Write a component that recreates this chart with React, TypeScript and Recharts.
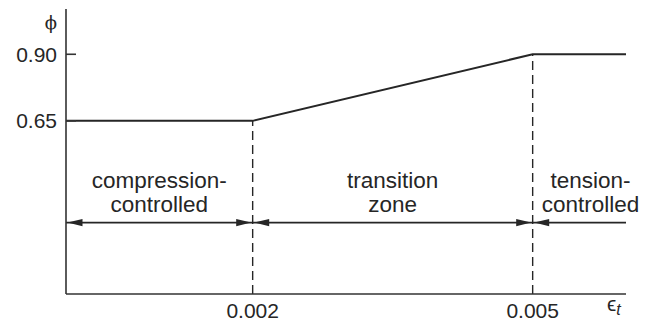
import { LineChart, Line, XAxis, YAxis, ReferenceLine, ReferenceDot } from "recharts";

// strength reduction factor vs. net tensile strain
const strain = [0, 0.002, 0.005, 0.006];
const phi = [0.65, 0.65, 0.9, 0.9];
const xTicks = [0.002, 0.005];
const yTicks = [0.65, 0.9];

// zones between the strain limits
const zoneBounds = [0, 0.002, 0.005, 0.006];
const zoneLabels = [
  ["compression-", "controlled"],
  ["transition", "zone"],
  ["tension-", "controlled"],
];
const zoneLabelX = [0.001, 0.0035, 0.00562];
const zoneHeads: [boolean, boolean][] = [
  [true, true],
  [true, true],
  [true, false],
];
const arrowLevel = 0.268;
const labelLevel = 0.353;

const INK = "#262626";
const FONT = "'Liberation Sans', Arial, Helvetica, sans-serif";

const data = strain.map((s, i) => ({ strain: s, phi: phi[i] }));

function arrowSpan(props: any, heads: [boolean, boolean]) {
  const { x1, y1, x2 } = props;
  const len = 15;
  const half = 3.6;
  const inset = 1.5;
  const left = x1 + inset;
  const right = x2 - inset;
  return (
    <g>
      <line x1={x1} y1={y1} x2={x2} y2={y1} stroke={INK} strokeWidth={1.7} />
      {heads[0] && (
        <polygon
          points={`${left},${y1} ${left + len},${y1 - half} ${left + len},${y1 + half}`}
          fill={INK}
        />
      )}
      {heads[1] && (
        <polygon
          points={`${right},${y1} ${right - len},${y1 - half} ${right - len},${y1 + half}`}
          fill={INK}
        />
      )}
    </g>
  );
}

function zoneText(props: any, lines: string[]) {
  const { cx, cy } = props;
  return (
    <text textAnchor="middle" fontFamily={FONT} fontSize={22.5} fill={INK}>
      {lines.map((t, i) => (
        <tspan key={t + i} x={cx} y={cy - 12 + i * 24}>
          {t}
        </tspan>
      ))}
    </text>
  );
}

export default function App() {
  return (
    <div style={{ position: "absolute", left: 0, top: 0, background: "#fff" }}>
      <LineChart
        width={660}
        height={324}
        data={data}
        margin={{ top: 9, right: 34, left: 0, bottom: 0 }}
      >
        <XAxis
          dataKey="strain"
          type="number"
          domain={[0, 0.006]}
          ticks={xTicks}
          tickFormatter={(v: number) => v.toFixed(3)}
          height={30}
          tickLine={false}
          tickSize={0}
          tickMargin={9}
          axisLine={{ stroke: "#333", strokeWidth: 1.6 }}
          tick={{ fill: INK, fontSize: 21, fontFamily: FONT }}
          label={(p: any) => {
            const vb = p.viewBox;
            return (
              <text
                x={vb.x + vb.width - 19}
                y={vb.y + 17}
                fontFamily={FONT}
                fontSize={21}
                fill={INK}
              >
                ϵ
                <tspan fontStyle="italic" fontSize={16} dy={4}>
                  t
                </tspan>
              </text>
            );
          }}
        />
        <YAxis
          type="number"
          domain={[0, 1.07]}
          ticks={yTicks}
          tickFormatter={(v: number) => v.toFixed(2)}
          width={66}
          tickSize={-10}
          tickMargin={19}
          tickLine={{ stroke: "#333", strokeWidth: 1.6 }}
          axisLine={{ stroke: "#333", strokeWidth: 1.6 }}
          tick={{ fill: INK, fontSize: 21, fontFamily: FONT }}
          label={(p: any) => {
            const vb = p.viewBox;
            return (
              <text
                x={vb.x + vb.width - 15}
                y={vb.y + 20}
                textAnchor="middle"
                fontFamily="'DejaVu Serif', serif"
                fontSize={18}
                fill={INK}
              >
                ϕ
              </text>
            );
          }}
        />

        {/* strain limits */}
        {xTicks.map((xv) => (
          <ReferenceLine
            key={"d" + xv}
            segment={[
              { x: xv, y: 0 },
              { x: xv, y: phi[strain.indexOf(xv)] },
            ]}
            stroke={INK}
            strokeWidth={1.4}
            strokeDasharray="9 5"
          />
        ))}

        {/* zone spans with arrows */}
        {zoneLabels.map((_, i) => (
          <ReferenceLine
            key={"a" + i}
            segment={[
              { x: zoneBounds[i], y: arrowLevel },
              { x: zoneBounds[i + 1], y: arrowLevel },
            ]}
            shape={(p: any) => arrowSpan(p, zoneHeads[i])}
          />
        ))}

        {zoneLabels.map((lines, i) => (
          <ReferenceDot
            key={"t" + i}
            x={zoneLabelX[i]}
            y={labelLevel}
            r={0}
            shape={(p: any) => zoneText(p, lines)}
          />
        ))}

        <Line
          type="linear"
          dataKey="phi"
          stroke={INK}
          strokeWidth={2}
          dot={false}
          isAnimationActive={false}
        />
      </LineChart>
    </div>
  );
}
